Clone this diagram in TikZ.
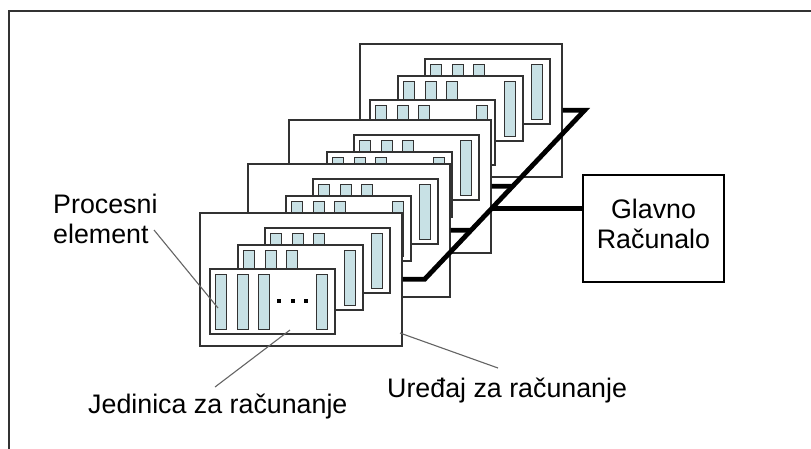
\documentclass[tikz,border=0pt]{standalone}
\usepackage{fontspec}
\setmainfont{Liberation Sans}
\usetikzlibrary{calc}
\definecolor{pefill}{RGB}{200,225,229}
\definecolor{edge}{RGB}{50,50,50}
\definecolor{leadc}{RGB}{100,100,100}
\begin{document}
\begin{tikzpicture}[x=1pt,y=-1pt,
  devbox/.style={draw=edge, fill=white, line width=1.6pt, inner sep=0pt, minimum width=202pt, minimum height=133pt, anchor=north west},
  unitbox/.style={draw=edge, fill=white, line width=1.6pt, inner sep=0pt, minimum width=125pt, minimum height=65pt, anchor=north west},
  pebox/.style={draw=edge, fill=pefill, line width=1.4pt, inner sep=0pt, minimum width=11pt, minimum height=55pt, anchor=north west},
  gcbox/.style={draw=black, line width=2.4pt, inner sep=0pt, minimum width=141pt, minimum height=107pt},
  bus/.style={line width=4.8pt, black},
  leader/.style={draw=leadc, line width=1.1pt},
  lbl/.style={font=\fontsize{26.8}{30}\selectfont, inner sep=0pt, text=black},
  frame/.style={draw=edge, line width=1.6pt},
  cunit/.pic={
    \node[unitbox] (-box) at (0,0) {};
    \foreach \bx [count=\i] in {6,28,49,107} \node[pebox] (-pe\i) at (\bx,6) {};
    \foreach \dx [count=\i] in {70,84,97} \node[fill=black, rectangle, inner sep=0pt, minimum size=4pt] (-dot\i) at (\dx,33) {};
  },
  device/.pic={
    \node[devbox] (-box) at (0,0) {};
    \pic (-u3) at (65,15) {cunit};
    \pic (-u2) at (38,32) {cunit};
    \pic (-u1) at (10,56) {cunit};
  }
]
\useasboundingbox (0,0) rectangle (811,448);
% outer frame (top and left edges visible)
\draw[frame] (9,460) -- (9,11) -- (820,11);

% devices, back to front
\pic (d4) at (359,43) {device};
\pic (d3) at (288,119) {device};
\pic (d2) at (247,163) {device};
\pic (d1) at (199,212) {device};

% main computer
\node[gcbox] (gc) at (653.5,228.5) {};
\node[lbl, align=center] (gct) at ([yshift=5pt]gc.center) {Glavno\\Računalo};

% bus
\coordinate (c1) at ($(d1-box.east)+(22,0)$);
\coordinate (c4) at ($(d4-box.east)+(22,0)$);
\draw[bus] (d1-box.east) -- (c1) -- (c4) -- (d4-box.east);
\coordinate (t2) at ($(c1)!0.29!(c4)$);
\coordinate (t3) at ($(c1)!0.55!(c4)$);
\coordinate (bt) at ($(c1)!0.417!(c4)$);
\draw[bus] (d2-box.east) -- (t2);
\draw[bus] (d3-box.east) -- (t3);
\draw[bus] (bt) -- (bt -| gc.west);

% labels
\node[lbl, align=left, anchor=base west] (pe) at (53,243) {Procesni\\element};
\node[lbl, anchor=base west] (ju) at (88,413) {Jedinica za računanje};
\node[lbl, anchor=base west] (ur) at (387,397) {Uređaj za računanje};

% leader lines
\coordinate (pe-a) at (154,230);
\coordinate (pe-b) at (218,308);
\coordinate (ju-a) at (215,387);
\coordinate (ju-b) at (290,330);
\coordinate (ur-a) at (498,368);
\coordinate (ur-b) at (400,333);
\draw[leader] (pe-a) -- (pe-b);
\draw[leader] (ju-a) -- (ju-b);
\draw[leader] (ur-a) -- (ur-b);
\end{tikzpicture}
\end{document}
